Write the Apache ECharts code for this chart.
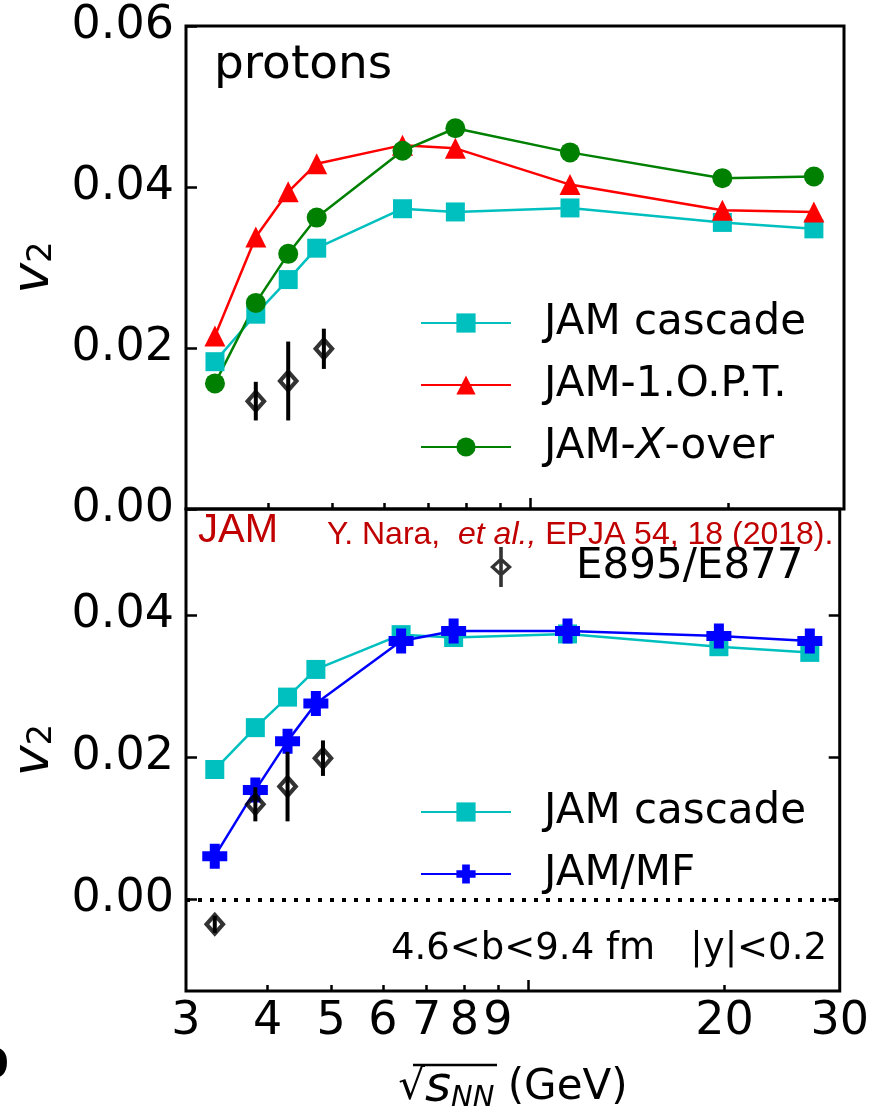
<!DOCTYPE html>
<html><head><meta charset="utf-8">
<script src="https://cdn.jsdelivr.net/npm/echarts@6/dist/echarts.min.js"></script>
<style>html,body{margin:0;padding:0;background:#fff}#c{width:872px;height:1114px}</style>
</head><body><div id="c"></div>
<script>
// ---- data ----
const energies   = [3.32, 3.83, 4.29, 4.74, 6.4, 7.7, 11.5, 19.6, 27];
const jamCascade = [0.0183, 0.0242, 0.0285, 0.0324, 0.0373, 0.0369, 0.0374, 0.0356, 0.0348];
const jamOPT     = [0.0215, 0.0338, 0.0394, 0.0429, 0.0452, 0.0448, 0.0403, 0.0371, 0.0369];
const jamXover   = [0.0156, 0.0256, 0.0317, 0.0362, 0.0445, 0.0473, 0.0443, 0.0411, 0.0413];
const jamMF      = [0.0061, 0.0154, 0.0223, 0.0276, 0.0364, 0.0378, 0.0378, 0.0371, 0.0364];
const expEnergies = [3.32, 3.83, 4.29, 4.86];
const expV2       = [-0.0035, 0.0134, 0.0159, 0.0199];
const expErr      = [0.0012, 0.0024, 0.0049, 0.0025];
const xLabelValues = [3, 4, 5, 6, 7, 8, 9, 20, 30];
const xMinorTicks  = [4, 5, 6, 7, 8, 9, 20];
const xMajorTicks  = [10];
const yTicksBottom = [0, 0.02, 0.04];
const topRange = [0, 0.06];
const bottomRange = [-0.0129, 0.055];

const FONT = 'DejaVu Sans';
const pairs = (xs, ys) => xs.map((x, i) => [x, ys[i]]);
const expTriples = expEnergies.map((x, i) => [x, expV2[i], expErr[i]]);
const inRange = (r) => expTriples.filter(d => d[1] >= r[0] && d[1] <= r[1]);

const plusPath = 'path://M3,0H7V3H10V7H7V10H3V7H0V3H3Z';
const diamondPath = 'path://M12,0L24,12L12,24L0,12Z M12,6L6,12L12,18L18,12Z';
const legendDiamond = 'path://M12,10L23,20L12,30L1,20Z M12,14.6L5.9,20L12,25.4L18.1,20Z M10.2,0L13.8,0L13.8,40L10.2,40Z';

const chart = echarts.init(document.getElementById('c'), null, {renderer: 'canvas'});

function xAxisBase(grid) {
  return {type: 'log', logBase: 10, gridIndex: grid, min: 3, max: 30, position: 'bottom',
    axisLine: {show: false, onZero: false}, splitLine: {show: false}, minorTick: {show: false}};
}
function errSeries(name, xi, yi, data) {
  return {
    type: 'custom', name: name, xAxisIndex: xi, yAxisIndex: yi, z: 5,
    data: data, encode: {x: 0, y: 1},
    renderItem: function (params, api) {
      const x = api.value(0), y = api.value(1), e = api.value(2);
      const p1 = api.coord([x, y - e]), p2 = api.coord([x, y + e]);
      return {type: 'line', shape: {x1: p1[0], y1: p1[1], x2: p2[0], y2: p2[1]},
        style: {stroke: '#000', lineWidth: 4}};
    }
  };
}
function lineSeries(name, xi, yi, ys, color, symbol, size) {
  return {type: 'line', name: name, xAxisIndex: xi, yAxisIndex: yi, data: pairs(energies, ys),
    symbol: symbol, symbolSize: size, showAllSymbol: true,
    lineStyle: {color: color, width: 2.5}, itemStyle: {color: color}};
}
function expScatter(xi, yi, data) {
  return {type: 'scatter', name: 'E895/E877', xAxisIndex: xi, yAxisIndex: yi, z: 4,
    data: data.map(d => [d[0], d[1]]), symbol: diamondPath, symbolSize: [22, 25],
    itemStyle: {color: '#000'}};
}

const tickLine = {color: '#000', width: 2.5};

chart.setOption({
  animation: false,
  backgroundColor: '#fff',
  grid: [
    {left: 185, right: 28, top: 26, height: 483, show: true, borderColor: '#000', borderWidth: 3, backgroundColor: 'transparent'},
    {left: 185, right: 28, top: 509, height: 484, show: true, borderColor: '#000', borderWidth: 3, backgroundColor: 'transparent'}
  ],
  xAxis: [
    Object.assign(xAxisBase(0), {axisLabel: {show: false},
      axisTick: {show: true, inside: true, length: 6, lineStyle: tickLine, customValues: xMinorTicks}}),
    Object.assign(xAxisBase(0), {axisLabel: {show: false},
      axisTick: {show: true, inside: true, length: 11, lineStyle: tickLine, customValues: xMajorTicks}}),
    Object.assign(xAxisBase(1), {
      axisLabel: {show: true, customValues: xLabelValues, margin: 8, fontSize: 46, fontFamily: FONT, color: '#000',
        formatter: v => String(Math.round(v))},
      axisTick: {show: true, inside: true, length: 6, lineStyle: tickLine, customValues: xMinorTicks},
      name: '{r|√}{s|s}{sub|NN}{t| (GeV)}', nameLocation: 'middle', nameGap: 72,
      nameTextStyle: {color: '#000', fontFamily: FONT, fontSize: 42,
        rich: {
          r: {fontSize: 42, fontFamily: FONT, color: '#000'},
          s: {fontSize: 50, fontFamily: FONT, fontStyle: 'italic', color: '#000'},
          sub: {fontSize: 29, fontFamily: FONT, fontStyle: 'italic', color: '#000', padding: [20, 0, 0, 0]},
          t: {fontSize: 42, fontFamily: FONT, color: '#000'}
        }}}),
    Object.assign(xAxisBase(1), {axisLabel: {show: false},
      axisTick: {show: true, inside: true, length: 11, lineStyle: tickLine, customValues: xMajorTicks}})
  ],
  yAxis: [
    {type: 'value', gridIndex: 0, min: topRange[0], max: topRange[1], interval: 0.02,
      axisLine: {show: false, onZero: false}, splitLine: {show: false},
      axisTick: {show: true, inside: true, length: 11, lineStyle: tickLine},
      axisLabel: {show: true, margin: 12, fontSize: 46, fontFamily: FONT, color: '#000',
        showMinLabel: true, showMaxLabel: true, formatter: v => v.toFixed(2)},
      name: '{v|v}{s|2}', nameLocation: 'middle', nameRotate: 90, nameGap: 126,
      nameTextStyle: {rich: {v: {fontSize: 52, fontFamily: FONT, fontStyle: 'italic', color: '#000'},
        s: {fontSize: 34, fontFamily: FONT, color: '#000', padding: [16, 0, 0, 0]}}}},
    {type: 'value', gridIndex: 1, min: bottomRange[0], max: bottomRange[1],
      axisLine: {show: false, onZero: false}, splitLine: {show: false},
      axisTick: {show: true, inside: true, length: 11, lineStyle: tickLine, customValues: yTicksBottom},
      axisLabel: {show: true, margin: 12, fontSize: 46, fontFamily: FONT, color: '#000',
        customValues: yTicksBottom, formatter: v => v.toFixed(2)},
      name: '{v|v}{s|2}', nameLocation: 'middle', nameRotate: 90, nameGap: 126,
      nameTextStyle: {rich: {v: {fontSize: 52, fontFamily: FONT, fontStyle: 'italic', color: '#000'},
        s: {fontSize: 34, fontFamily: FONT, color: '#000', padding: [16, 0, 0, 0]}}}},
    {type: 'value', gridIndex: 1, position: 'right', min: bottomRange[0], max: bottomRange[1],
      axisLine: {show: false, onZero: false}, splitLine: {show: false}, axisLabel: {show: false},
      axisTick: {show: true, inside: true, length: 11, lineStyle: tickLine, customValues: yTicksBottom}}
  ],
  legend: [
    {data: ['JAM cascade', 'JAM-1.O.P.T.', 'JAM-X-over'], orient: 'vertical', left: 420, top: 302,
      padding: 0, itemWidth: 90, itemHeight: 24, itemGap: 20, selectedMode: false,
      formatter: n => n === 'JAM-X-over' ? '{a|JAM-}{i|X}{a|-over}' : n,
      textStyle: {fontSize: 42, fontFamily: FONT, color: '#000', padding: [0, 0, 0, 28],
        rich: {a: {fontSize: 42, fontFamily: FONT, color: '#000'},
               i: {fontSize: 42, fontFamily: FONT, fontStyle: 'italic', color: '#000'}}}},
    {data: ['JAM cascade', 'JAM/MF'], orient: 'vertical', left: 420, top: 791,
      padding: 0, itemWidth: 90, itemHeight: 24, itemGap: 20, selectedMode: false,
      textStyle: {fontSize: 42, fontFamily: FONT, color: '#000', padding: [0, 0, 0, 28]}},
    {data: [{name: 'E895/E877', icon: legendDiamond}], orient: 'vertical', left: 490, top: 546,
      padding: 0, itemWidth: 24, itemHeight: 40, selectedMode: false,
      textStyle: {fontSize: 42, fontFamily: FONT, color: '#000', padding: [0, 0, 0, 58]}}
  ],
  series: [
    lineSeries('JAM cascade', 0, 0, jamCascade, '#00bfbf', 'rect', 19),
    lineSeries('JAM-1.O.P.T.', 0, 0, jamOPT, '#ff0000', 'triangle', 21),
    lineSeries('JAM-X-over', 0, 0, jamXover, '#008000', 'circle', 20),
    expScatter(0, 0, inRange(topRange)),
    errSeries('err-top', 0, 0, inRange(topRange)),
    Object.assign(lineSeries('JAM cascade', 2, 1, jamCascade, '#00bfbf', 'rect', 19), {
      markLine: {silent: true, symbol: ['none', 'none'], label: {show: false},
        lineStyle: {color: '#000', type: [4, 8], width: 4, cap: 'butt'}, data: [{yAxis: 0}]}}),
    lineSeries('JAM/MF', 2, 1, jamMF, '#0000ff', plusPath, 25),
    expScatter(2, 1, inRange(bottomRange)),
    errSeries('err-bottom', 2, 1, inRange(bottomRange))
  ],
  graphic: [
    {type: 'text', x: 214, y: 66, style: {text: 'protons', font: '47px "DejaVu Sans"', fill: '#000', verticalAlign: 'middle'}},
    {type: 'text', x: 198, y: 531, style: {text: 'JAM', font: '40px "Liberation Sans"', fill: '#c00000', verticalAlign: 'middle'}},
    {type: 'text', x: 327, y: 535, style: {text: '{n|Y. Nara,  }{i|et al.,}{n| EPJA 54, 18 (2018).}', verticalAlign: 'middle',
      rich: {n: {font: '32px "Liberation Sans"', fill: '#c00000'}, i: {font: 'italic 32px "Liberation Sans"', fill: '#c00000'}}}},
    {type: 'text', x: 391, y: 949, style: {text: '4.6<b<9.4 fm   |y|<0.2', font: '37px "DejaVu Sans"', fill: '#000', verticalAlign: 'middle'}},
    {type: 'text', x: -24, y: 1066, style: {text: 'D', font: 'bold 46px "Liberation Serif"', fill: '#000', verticalAlign: 'middle'}},
    {type: 'line', shape: {x1: 413, y1: 1065, x2: 497, y2: 1065}, style: {stroke: '#000', lineWidth: 2.5}}
  ]
});
</script></body></html>
